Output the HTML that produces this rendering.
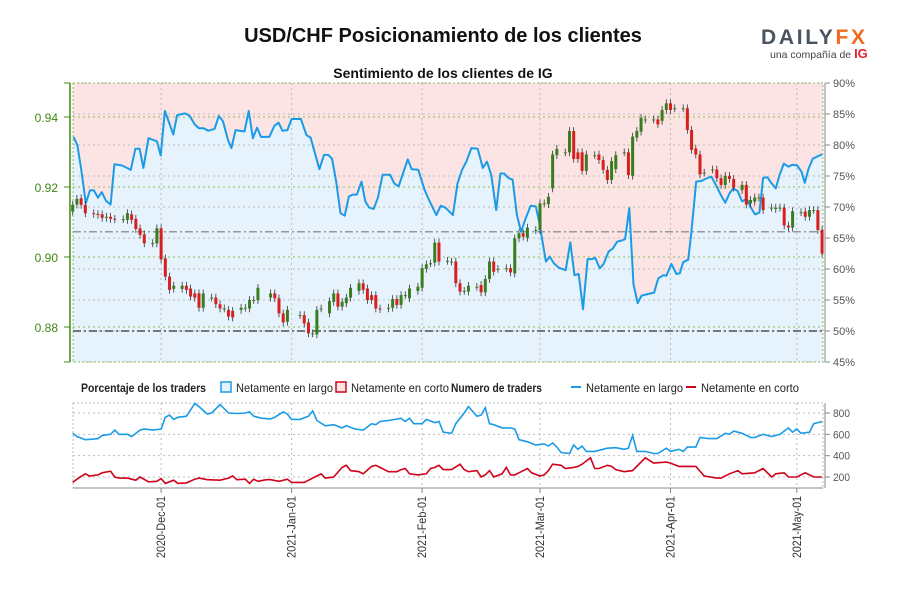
<!DOCTYPE html>
<html><head><meta charset="utf-8">
<style>
html,body{margin:0;padding:0;background:#fff;}
body{width:900px;height:600px;overflow:hidden;font-family:"Liberation Sans",sans-serif;}
svg text{font-family:"Liberation Sans",sans-serif;}
</style></head>
<body>
<svg id="chart" width="900" height="600" viewBox="0 0 900 600" xmlns="http://www.w3.org/2000/svg">
<text x="443" y="42" text-anchor="middle" font-size="20" font-weight="bold" fill="#111">USD/CHF Posicionamiento de los clientes</text>
<text x="443" y="78" text-anchor="middle" font-size="14" font-weight="bold" fill="#111">Sentimiento de los clientes de IG</text>
<g>
<text x="761" y="44" font-size="21" font-weight="bold" fill="#4a5560" textLength="104" lengthAdjust="spacing">DAILY<tspan fill="#f26a21">FX</tspan></text>
<text x="770" y="58" font-size="10.5" fill="#444">una compañía de <tspan fill="#e0232c" font-weight="bold" font-size="13">IG</tspan></text>
</g>
<g id="main"></g>
<g id="legend">
<text x="81" y="392" font-size="12" font-weight="bold" fill="#222" textLength="125" lengthAdjust="spacingAndGlyphs">Porcentaje de los traders</text>
<rect x="221" y="382" width="10" height="10" fill="#e6f3fc" stroke="#1a9be6" stroke-width="1.5"/>
<text x="236" y="392" font-size="12" fill="#222" textLength="97" lengthAdjust="spacingAndGlyphs">Netamente en largo</text>
<rect x="336" y="382" width="10" height="10" fill="#fce4e4" stroke="#d0021b" stroke-width="1.5"/>
<text x="351" y="392" font-size="12" fill="#222" textLength="98" lengthAdjust="spacingAndGlyphs">Netamente en corto</text>
<text x="451" y="392" font-size="12" font-weight="bold" fill="#222" textLength="91" lengthAdjust="spacingAndGlyphs">Numero de traders</text>
<line x1="571" y1="387" x2="581" y2="387" stroke="#1a9be6" stroke-width="2"/>
<text x="586" y="392" font-size="12" fill="#222" textLength="97" lengthAdjust="spacingAndGlyphs">Netamente en largo</text>
<line x1="686" y1="387" x2="696" y2="387" stroke="#d0021b" stroke-width="2"/>
<text x="701" y="392" font-size="12" fill="#222" textLength="98" lengthAdjust="spacingAndGlyphs">Netamente en corto</text>
</g>
<g id="lower"></g>
</svg>
<script>
// ---------- data ----------
const sentDays=[0.2,1.1,2.0,3.1,4.1,5.0,6.0,6.9,7.9,9.0,9.9,11.7,13.8,14.9,15.9,16.8,18.0,20.0,20.9,21.9,23.9,24.8,26.7,27.8,29.0,30.0,31.1,32.2,33.7,34.7,35.7,36.9,37.7,38.7,39.6,40.8,41.8,42.8,43.8,44.7,46.7,47.9,48.9,49.8,51.0,52.0,54.2,55.5,56.5,58.6,59.7,60.7,61.6,62.6,63.6,64.6,65.6,66.5,67.5,68.6,69.5,70.4,71.5,72.5,73.6,75.4,76.4,77.4,79.6,80.5,82.1,83.6,84.8,86.4,87.4,88.5,90.3,91.4,92.5,93.5,94.7,96.2,97.4,98.4,99.4,100.6,101.6,102.5,103.5,104.5,105.5,106.5,107.6,108.8,110.0,110.8,112.4,113.3,114.3,115.5,117.1,118.2,119.2,120.2,121.2,122.3,123.4,124.1,125.2,126.1,127.3,128.3,129.3,130.4,131.2,132.2,133.2,134.2,135.1,136.3,138.1,139.1,140.3,141.0,142.2,143.4,144.2,145.0,146.2,146.9,148.1,149.3,150.5,151.7,152.8,154.0,155.0,156.0,156.9,157.9,159.0,160.1,161.1,162.1,163.1,164.0,165.0,166.0,167.0,167.9,168.9,170.0,170.9,172.1,173.1,173.9,174.8,175.8,178];
const sentLong=[81.3,80.0,76.2,70.6,72.7,72.7,71.5,72.4,71.0,70.4,76.9,76.7,76.0,79.4,79.4,76.3,81.1,80.6,78.3,85.5,81.7,84.8,85.1,84.7,83.3,82.7,82.7,82.3,82.6,84.7,83.8,80.8,79.5,82.4,82.3,82.2,85.5,81.1,82.8,81.3,81.3,83.1,83.6,82.3,82.4,84.2,84.2,81.6,81.2,76.1,78.4,78.4,77.8,74.1,69.0,68.6,71.7,72.0,72.0,74.1,70.9,69.9,69.7,71.5,75.2,75.2,73.8,73.3,77.7,76.1,76.0,72.7,70.9,68.7,70.2,69.9,68.7,73.8,76.0,77.3,79.5,79.4,76.3,77.3,75.2,69.5,75.4,75.4,74.7,74.4,68.7,66.0,68.2,70.2,70.1,67.6,61.2,62.0,60.9,60.2,59.8,64.3,59.0,59.2,53.5,61.6,61.6,61.8,60.1,60.8,62.8,63.3,64.4,64.6,64.8,69.8,57.5,54.5,55.7,55.9,56.2,58.5,59.0,58.9,60.8,59.2,59.3,61.1,61.5,65.5,74.1,74.2,74.6,74.9,73.5,71.9,70.7,72.2,73.0,72.6,70.9,71.3,69.9,68.8,69.1,74.7,74.8,73.8,73.0,75.2,77.0,76.5,76.8,76.7,75.7,73.9,76.2,77.8,78.5];
const opens=[.9130,.9150,.9168,.9149,.9125,.9123,.9122,.9112,.9115,.9109,.9108,.9106,.9122,.9109,.9082,.9065,.9039,.9039,.9082,.8996,.8944,.8909,.8909,.8918,.8910,.8896,.8896,.8855,.8884,.8884,.8865,.8853,.8849,.8846,.8849,.8855,.8853,.8877,.8877,.8884,.8896,.8882,.8839,.8815,.8834,.8834,.8813,.8782,.8779,.8853,.8839,.8872,.8896,.8858,.8868,.8884,.8903,.8925,.8910,.8891,.8891,.8853,.8853,.8855,.8880,.8863,.8891,.8882,.8903,.8912,.8966,.8982,.8984,.9041,.8989,.8987,.8987,.8925,.8903,.8901,.8915,.8920,.8899,.8937,.8987,.8966,.8968,.8968,.8953,.9053,.9068,.9055,.9077,.9077,.9153,.9151,.9196,.9291,.9299,.9299,.9360,.9299,.9299,.9246,.9291,.9293,.9277,.9249,.9220,.9251,.9299,.9299,.9232,.9341,.9358,.9393,.9393,.9393,.9389,.9420,.9439,.9425,.9425,.9425,.9363,.9310,.9293,.9241,.9250,.9250,.9225,.9206,.9232,.9223,.9191,.9206,.9153,.9158,.9170,.9170,.9141,.9137,.9141,.9141,.9090,.9084,.9128,.9130,.9115,.9134,.9134,.9077];
const closes=[.9149,.9166,.9149,.9125,.9123,.9120,.9112,.9115,.9109,.9108,.9108,.9125,.9106,.9080,.9063,.9039,.9040,.9082,.8993,.8944,.8906,.8918,.8918,.8906,.8887,.8884,.8855,.8896,.8884,.8865,.8853,.8853,.8830,.8827,.8855,.8855,.8877,.8877,.8912,.8896,.8882,.8839,.8813,.8849,.8834,.8810,.8782,.8782,.8849,.8853,.8874,.8896,.8858,.8872,.8884,.8912,.8925,.8906,.8877,.8877,.8853,.8851,.8855,.8880,.8863,.8891,.8891,.8910,.8915,.8968,.8979,.8982,.9041,.8987,.8989,.8987,.8925,.8901,.8903,.8918,.8915,.8899,.8937,.8987,.8958,.8966,.8968,.8956,.9053,.9068,.9058,.9084,.9077,.9153,.9153,.9172,.9293,.9309,.9299,.9360,.9280,.9280,.9246,.9293,.9291,.9277,.9249,.9220,.9274,.9291,.9299,.9234,.9344,.9360,.9398,.9393,.9393,.9379,.9420,.9439,.9420,.9425,.9425,.9363,.9306,.9293,.9236,.9241,.9250,.9225,.9206,.9232,.9223,.9198,.9206,.9150,.9163,.9170,.9170,.9134,.9141,.9141,.9141,.9090,.9084,.9131,.9128,.9115,.9134,.9134,.9077,.9010];
const priceTicks=[0.88,0.90,0.92,0.94];
const pctTicks=[45,50,55,60,65,70,75,80,85,90];
const monthLabels=["2020-Dec-01","2021-Jan-01","2021-Feb-01","2021-Mar-01","2021-Apr-01","2021-May-01"];
const monthDays=[21,52,83,111,142,172];
const refLines=[66,50];
const longDays=[0,1,3,5,6,7,9,10,11,13,14,16,17,19,21,22,23,24,25,27,29,30,32,33,35,37,39,41,42,43,45,47,48,50,51,52,54,56,57,58,60,62,64,65,67,69,71,72,73,75,78,79,80,81,83,84,86,87,88,90,91,93,94,96,97,98,99,100,102,104,105,106,108,110,112,113,114,115,116,118,119,120,121,122,124,127,129,131,132,133,134,136,138,139,141,142,144,145,146,148,149,151,153,155,156,157,159,161,162,164,166,168,170,171,172,173,175,176,178];
const longCounts=[610,580,550,555,560,590,600,640,600,600,580,640,650,640,650,760,780,740,760,770,890,860,790,800,880,800,795,800,810,770,750,745,760,810,790,740,740,770,820,730,680,690,660,680,650,640,700,690,720,730,750,720,750,700,700,740,710,720,620,610,700,800,860,770,780,850,700,690,660,660,650,550,530,500,510,490,520,480,430,420,500,460,490,440,440,470,475,460,470,590,440,440,420,420,470,440,460,440,480,480,570,560,560,610,600,630,610,570,570,600,580,600,660,620,650,610,620,700,720];
const shortDays=[0,1,3,4,6,7,9,10,11,13,15,16,18,20,21,22,24,25,27,29,30,32,35,37,38,39,41,42,43,44,46,47,49,51,52,55,57,58,59,60,62,64,65,66,68,69,71,72,73,75,77,78,79,80,82,84,85,86,87,88,90,92,93,94,96,97,98,99,100,102,103,104,105,106,108,109,111,112,113,114,116,117,119,120,121,123,124,125,127,128,129,131,133,136,138,141,142,144,148,150,153,154,156,158,159,162,164,166,167,169,170,172,174,176,178];
const shortCounts=[150,180,230,210,220,240,255,200,190,190,170,200,155,160,185,140,170,140,145,180,190,175,170,190,210,175,180,140,180,160,175,175,160,180,150,150,190,210,230,190,200,290,310,260,250,230,300,310,290,250,250,270,280,230,220,230,280,290,310,270,270,320,270,250,260,200,220,260,200,230,290,220,220,240,280,240,210,220,260,320,310,280,290,300,320,380,280,280,310,300,270,250,260,380,330,340,330,300,300,210,190,190,230,260,230,240,280,200,230,240,200,200,240,200,200];
const countTicks=[200,400,600,800];

// ---------- scales ----------
const NS="http://www.w3.org/2000/svg";
const X0=73,X1=823,PT=83,PB=362,LT=403,LB=488;
const xD=d=>72.7+d*4.21;
const yP=p=>117+(0.94-p)*3500;
const yPct=v=>83+(90-v)*6.2;
const yC=v=>413+(800-v)*0.1067;
function mk(parent,tag,attrs){const e=document.createElementNS(NS,tag);for(const k in attrs)e.setAttribute(k,attrs[k]);parent.appendChild(e);return e;}
const main=document.getElementById('main');
const lower=document.getElementById('lower');

const candleDays=[];
for(let d=0;candleDays.length<closes.length;d++){ if(d%7===4||d===45||d===52) continue; candleDays.push(d); }

mk(main,'rect',{x:X0,y:PT,width:X1-X0,height:PB-PT,fill:'#fce4e4'});
let pts=sentDays.map((d,i)=>xD(d).toFixed(1)+','+yPct(sentLong[i]).toFixed(1));
let area=mk(main,'polygon',{points:X0+','+PB+' '+X0+','+yPct(sentLong[0]).toFixed(1)+' '+pts.join(' ')+' '+X1+','+yPct(sentLong[sentLong.length-1]).toFixed(1)+' '+X1+','+PB,fill:'#e6f3fc'});



pctTicks.forEach(v=>{const y=yPct(v);mk(main,'line',{x1:X0,x2:X1,y1:y,y2:y,stroke:'#bbb','stroke-dasharray':'2,3','stroke-width':1});
 mk(main,'line',{x1:825,x2:830,y1:y,y2:y,stroke:'#888'});
 const t=mk(main,'text',{x:833,y:y+4,'font-size':11,fill:'#555',textLength:v>=10?22:16,lengthAdjust:'spacingAndGlyphs'});t.textContent=v+'%';
 
 });
priceTicks.forEach(p=>{const y=yP(p);mk(main,'line',{x1:X0,x2:X1,y1:y,y2:y,stroke:'#8dbb5a','stroke-dasharray':'2,3','stroke-width':1});
 mk(main,'line',{x1:64,x2:70,y1:y,y2:y,stroke:'#3d8a12'});
 const t=mk(main,'text',{x:58,y:y+5,'font-size':12,fill:'#3d8a12','text-anchor':'end'});t.textContent=p.toFixed(2);
 
 });
monthDays.forEach(d=>{const x=xD(d);mk(main,'line',{x1:x,x2:x,y1:PT,y2:PB,stroke:'#bbb','stroke-dasharray':'2,3'});
 mk(lower,'line',{x1:x,x2:x,y1:LT,y2:LB,stroke:'#bbb','stroke-dasharray':'2,3'});});
mk(main,'rect',{x:X0,y:PT,width:X1-X0,height:PB-PT,fill:'none',stroke:'#8dbb5a','stroke-dasharray':'2,2'});
mk(main,'line',{x1:70,x2:70,y1:PT,y2:PB,stroke:'#3d8a12','stroke-width':1.5});
mk(main,'line',{x1:64,x2:70,y1:PT,y2:PT,stroke:'#3d8a12'});
mk(main,'line',{x1:64,x2:70,y1:PB,y2:PB,stroke:'#3d8a12'});
mk(main,'line',{x1:825,x2:825,y1:PT,y2:PB,stroke:'#888'});
refLines.forEach((v,i)=>{const y=yPct(v);const l=mk(main,'line',{x1:X0,x2:X1,y1:y,y2:y,stroke:i?'#777':'#999','stroke-width':i?2:1.5,'stroke-dasharray':'8,3,2,3'});
 
 });

const sl=mk(main,'polyline',{points:pts.join(' '),fill:'none',stroke:'#1a9be6','stroke-width':2,'stroke-linejoin':'round'});



closes.forEach((c,i)=>{const o=opens[i];const x=xD(candleDays[i]);const up=c>=o;
 const hi=Math.max(o,c)+0.0011, lo=Math.min(o,c)-0.0011;
 const g=mk(main,'g',{});
 
 
 mk(g,'line',{x1:x,x2:x,y1:yP(hi),y2:yP(lo),stroke:'#333','stroke-width':0.8});
 const yt=yP(Math.max(o,c)),yb=yP(Math.min(o,c));
 mk(g,'rect',{x:x-1.5,y:yt,width:3,height:Math.max(1,yb-yt),fill:up?'#3a7d1e':'#d62020'});});

mk(lower,'rect',{x:X0,y:LT,width:X1-X0,height:LB-LT,fill:'none',stroke:'#bbb','stroke-dasharray':'2,2'});
countTicks.forEach(v=>{const y=yC(v);mk(lower,'line',{x1:X0,x2:X1,y1:y,y2:y,stroke:'#bbb','stroke-dasharray':'2,3'});
 mk(lower,'line',{x1:825,x2:830,y1:y,y2:y,stroke:'#888'});
 const t=mk(lower,'text',{x:833,y:y+4,'font-size':11,fill:'#555',textLength:17,lengthAdjust:'spacingAndGlyphs'});t.textContent=v;
 
 });
mk(lower,'line',{x1:825,x2:825,y1:LT,y2:LB,stroke:'#888'});
mk(lower,'line',{x1:X0,x2:X1,y1:LB,y2:LB,stroke:'#888'});
const ll=mk(lower,'polyline',{points:longDays.map((d,i)=>xD(d).toFixed(1)+','+yC(longCounts[i]).toFixed(1)).join(' '),fill:'none',stroke:'#1a9be6','stroke-width':1.6});


const rl=mk(lower,'polyline',{points:shortDays.map((d,i)=>xD(d).toFixed(1)+','+yC(shortCounts[i]).toFixed(1)).join(' '),fill:'none',stroke:'#d0021b','stroke-width':1.6});


monthLabels.forEach((m,i)=>{const x=xD(monthDays[i]);mk(lower,'line',{x1:x,x2:x,y1:LB,y2:LB+5,stroke:'#888'});
 const t=mk(lower,'text',{x:0,y:0,'font-size':12,fill:'#333','text-anchor':'end',textLength:62,lengthAdjust:'spacingAndGlyphs',transform:`translate(${x+4},${LB+8}) rotate(-90)`});t.textContent=m;
 
 });
</script>
</body></html>
